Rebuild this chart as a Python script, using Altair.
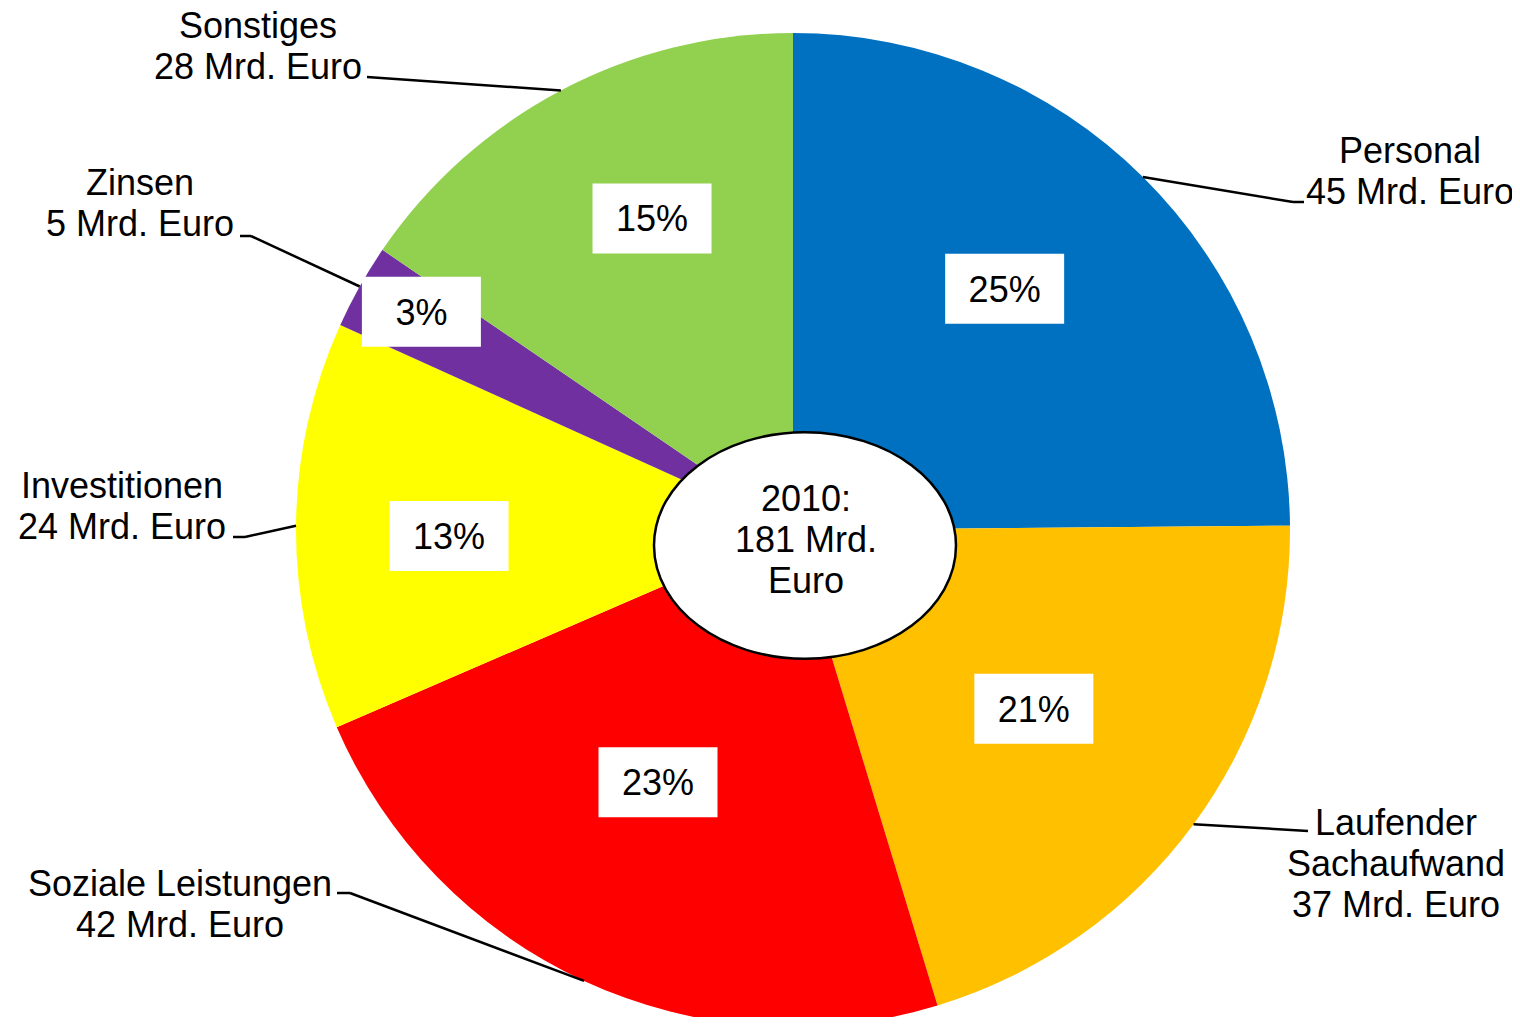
import altair as alt
import pandas as pd

# ---------------- data ----------------
categories = ["Personal", "Laufender Sachaufwand", "Soziale Leistungen",
              "Investitionen", "Zinsen", "Sonstiges"]
label_names = ["Personal", "Laufender\nSachaufwand", "Soziale Leistungen",
               "Investitionen", "Zinsen", "Sonstiges"]
values = [45, 37, 42, 24, 5, 28]            # Mrd. Euro
percent_labels = ["25%", "21%", "23%", "13%", "3%", "15%"]
year = "2010"

# ---------------- styles ----------------
colors = ["#0070C0", "#FFC000", "#FF0000", "#FFFF00", "#7030A0", "#92D050"]
FONT = "Liberation Sans"
FS = 36
LH = 41

# ---------------- layout (page pixel coordinates) ----------------
M = 8                       # page margin
CX, CY, R = 793 - M, 530 - M, 497
pct_radius = [321, 300, 286, 344, 431, 342]     # radial position of % boxes
pct_nudge_deg = [-3.5, 0.3, 3.3, -1.5, 1.1, 3.5]  # angular nudge of % boxes
label_x = [1410, 1396, 180, 122, 140, 258]      # outer label centre x
label_y = [163, 835, 896, 498, 195, 38]         # first-line baseline
elbow_x = [1293, 1308, 350, 245, 251, 367]
elbow_y = [202, 831, 893, 537, 236, 77]
end_x = [1304, 1308, 337, 233, 240, 367]
end_y = [202, 831, 893, 537, 236, 77]
ELL_X, ELL_Y, ELL_W, ELL_RATIO = 805 - M, 545.5 - M, 302, 0.75
BOX_W, BOX_H = 119, 70

df = pd.DataFrame({
    "idx": list(range(len(categories))),
    "category": categories,
    "value": values,
    "pct": percent_labels,
    "outer": [f"{n}\n{v} Mrd. Euro" for n, v in zip(label_names, values)],
    "pct_r": pct_radius,
    "nudge": pct_nudge_deg,
    "lx": [v - M for v in label_x],
    "ly": [v - M for v in label_y],
    "bx": [v - M for v in elbow_x],
    "by": [v - M for v in elbow_y],
    "qx": [v - M for v in end_x],
    "qy": [v - M for v in end_y],
})

center_df = pd.DataFrame({"txt": [f"{year}:\n{sum(values)} Mrd.\nEuro"]})

# ---------------- marks ----------------
pie = alt.Chart(df).mark_arc(radius=R, stroke=None).encode(
    theta=alt.Theta("value:Q", stack=True),
    color=alt.Color("category:N", scale=alt.Scale(domain=categories, range=colors), legend=None),
    order=alt.Order("idx:Q"),
    x=alt.value(CX),
    y=alt.value(CY),
)

geo = (
    alt.Chart(df)
    .transform_joinaggregate(total="sum(value)")
    .transform_window(cum="sum(value)", sort=[alt.SortField("idx")], frame=[None, 0])
    .transform_calculate(
        mid="2*PI*(datum.cum - datum.value/2)/datum.total",
    )
    .transform_calculate(
        lab="datum.mid + datum.nudge*PI/180",
    )
    .transform_calculate(
        px=f"{CX} + datum.pct_r*sin(datum.lab)",
        py=f"{CY} - datum.pct_r*cos(datum.lab)",
        ex=f"{CX} + {R}*sin(datum.mid)",
        ey=f"{CY} - {R}*cos(datum.mid)",
    )
)

def X(f):
    return alt.X(f"{f}:Q", scale=None, axis=None)

def Y(f):
    return alt.Y(f"{f}:Q", scale=None, axis=None)

lead1 = geo.mark_rule(color="black", strokeWidth=2.5).encode(
    x=X("ex"), y=Y("ey"), x2=alt.X2("bx"), y2=alt.Y2("by"))
lead2 = geo.mark_rule(color="black", strokeWidth=2.5).encode(
    x=X("bx"), y=Y("by"), x2=alt.X2("qx"), y2=alt.Y2("qy"))

h = BOX_H / BOX_W
box_shape = f"M-1,-{h:.4f}H1V{h:.4f}H-1Z"
boxes = geo.mark_point(shape=box_shape, size=BOX_W ** 2, filled=True,
                       fill="white", stroke=None, opacity=1).encode(
    x=X("px"), y=Y("py"))
pct_text = geo.mark_text(font=FONT, fontSize=FS, color="black", align="center",
                         baseline="alphabetic", dy=13).encode(
    x=X("px"), y=Y("py"), text="pct:N")

outer_text = geo.mark_text(font=FONT, fontSize=FS, color="black", align="center",
                           baseline="alphabetic", lineBreak="\n", lineHeight=LH).encode(
    x=X("lx"), y=Y("ly"), text="outer:N")

r = ELL_RATIO
k = 0.5523
ell_shape = (f"M-1,0C-1,{-k*r:.4f},{-k:.4f},{-r:.4f},0,{-r:.4f}"
             f"C{k:.4f},{-r:.4f},1,{-k*r:.4f},1,0"
             f"C1,{k*r:.4f},{k:.4f},{r:.4f},0,{r:.4f}"
             f"C{-k:.4f},{r:.4f},-1,{k*r:.4f},-1,0Z")
ellipse = alt.Chart(center_df).mark_point(shape=ell_shape, size=ELL_W ** 2, filled=True,
                                          fill="white", stroke="black", strokeWidth=2.5,
                                          opacity=1).encode(
    x=alt.value(ELL_X), y=alt.value(ELL_Y))
center_text = alt.Chart(center_df).mark_text(font=FONT, fontSize=FS, color="black",
                                             align="center", baseline="alphabetic",
                                             lineBreak="\n", lineHeight=LH).encode(
    x=alt.value(806 - M), y=alt.value(511 - M), text="txt:N")

chart = alt.layer(pie, lead1, lead2, boxes, pct_text, outer_text, ellipse, center_text).properties(
    width=1504, height=1009, padding=0, autosize=alt.AutoSizeParams(type="none"),
    background="white",
).configure_view(stroke=None)

chart.save("out.html", embed_options={"renderer": "svg", "actions": False})
